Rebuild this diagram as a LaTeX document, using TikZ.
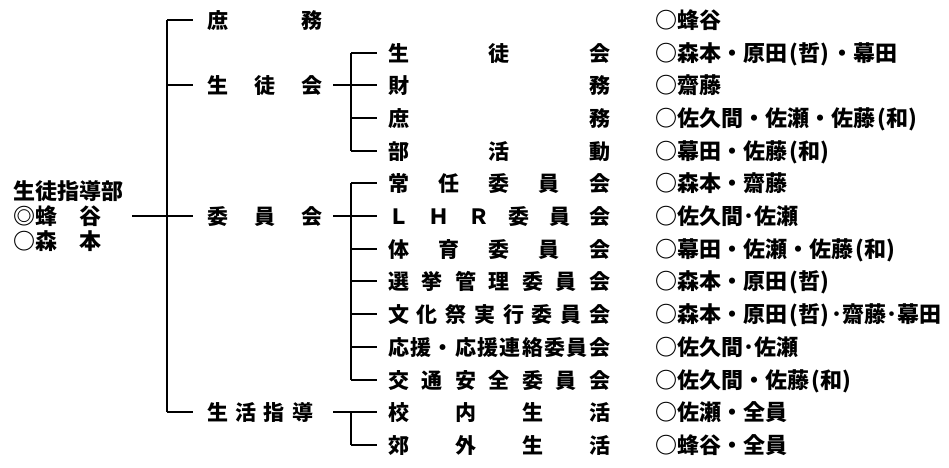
\documentclass[tikz,border=0pt]{standalone}
\usepackage{fontspec}
\setmainfont{Noto Sans CJK JP}
\newcommand\lpar{\makebox[0.5em][r]{(}}
\newcommand\rpar{\makebox[0.5em][l]{)}}
\begin{document}
\begin{tikzpicture}[x=1pt,y=-1pt,
  ln/.style={line width=1.8pt},
  base/.style={anchor=west, inner sep=0pt, text height=18.5pt, text depth=2.5pt},
  lhead/.style={base, font=\fontsize{22}{22}\selectfont\bfseries},
  lone/.style={base, font=\fontsize{21}{21}\selectfont\bfseries},
  ltwo/.style={base, font=\fontsize{21}{21}\selectfont\bfseries},
  lname/.style={base, font=\fontsize{22}{22}\selectfont\bfseries}]
\useasboundingbox (0,0) rectangle (949,467);
% left block
\node[lhead] (hd) at (13,191) {生徒指導部};
\node[lhead] (h1) at (13,216) {◎蜂　谷};
\node[lhead] (h2) at (13,241) {○森　本};
\coordinate (hs) at (132,216);
% level 1
\node[lone] (a1) at (207,20)  {\makebox[115pt][s]{庶\hfill 務}};
\node[lone] (a2) at (207,85)  {\makebox[115pt][s]{生\hfill 徒\hfill 会}};
\node[lone] (a3) at (207,216) {\makebox[115pt][s]{委\hfill 員\hfill 会}};
\node[lone] (a4) at (207,412) {\makebox[106pt][s]{生\hfill 活\hfill 指\hfill 導}};
% main trunk joints
\coordinate (m1) at (167,20);
\coordinate (m2) at (167,85);
\coordinate (m3) at (167,216);
\coordinate (m4) at (167,412);
% level 2
\node[ltwo] (b1)  at (388,53)  {\makebox[222pt][s]{生\hfill 徒\hfill 会}};
\node[ltwo] (b2)  at (388,85)  {\makebox[222pt][s]{財\hfill 務}};
\node[ltwo] (b3)  at (388,118) {\makebox[222pt][s]{庶\hfill 務}};
\node[ltwo] (b4)  at (388,151) {\makebox[222pt][s]{部\hfill 活\hfill 動}};
\node[ltwo] (b5)  at (388,183) {\makebox[222pt][s]{常\hfill 任\hfill 委\hfill 員\hfill 会}};
\node[ltwo] (b6)  at (388,216) {\makebox[222pt][s]{Ｌ\hfill Ｈ\hfill Ｒ\hfill 委\hfill 員\hfill 会}};
\node[ltwo] (b7)  at (388,249) {\makebox[222pt][s]{体\hfill 育\hfill 委\hfill 員\hfill 会}};
\node[ltwo] (b8)  at (388,281) {\makebox[222pt][s]{選\hfill 挙\hfill 管\hfill 理\hfill 委\hfill 員\hfill 会}};
\node[ltwo] (b9)  at (388,314) {\makebox[222pt][s]{文\hfill 化\hfill 祭\hfill 実\hfill 行\hfill 委\hfill 員\hfill 会}};
\node[ltwo] (b10) at (388,347) {\makebox[222pt][s]{応\hfill 援\hfill ・\hfill 応\hfill 援\hfill 連\hfill 絡\hfill 委\hfill 員\hfill 会}};
\node[ltwo] (b11) at (388,380) {\makebox[222pt][s]{交\hfill 通\hfill 安\hfill 全\hfill 委\hfill 員\hfill 会}};
\node[ltwo] (b12) at (388,412) {\makebox[222pt][s]{校\hfill 内\hfill 生\hfill 活}};
\node[ltwo] (b13) at (388,445) {\makebox[222pt][s]{郊\hfill 外\hfill 生\hfill 活}};
% sub-trunk joints
\coordinate (v1) at (351,53);
\coordinate (v4) at (351,151);
\coordinate (v5) at (351,183);
\coordinate (v11) at (351,380);
\coordinate (v12) at (351,412);
\coordinate (v13) at (351,445);
% names
\node[lname] (p0)  at (655,20)  {○蜂谷};
\node[lname] (p1)  at (655,53)  {○森本・原田\lpar 哲\rpar ・幕田};
\node[lname] (p2)  at (655,85)  {○齋藤};
\node[lname] (p3)  at (655,118) {○佐久間・佐瀬・佐藤\lpar 和\rpar};
\node[lname] (p4)  at (655,151) {○幕田・佐藤\lpar 和\rpar};
\node[lname] (p5)  at (655,183) {○森本・齋藤};
\node[lname] (p6)  at (655,216) {○佐久間･佐瀬};
\node[lname] (p7)  at (655,249) {○幕田・佐瀬・佐藤\lpar 和\rpar};
\node[lname] (p8)  at (655,281) {○森本・原田\lpar 哲\rpar};
\node[lname] (p9)  at (655,314) {○森本・原田\lpar 哲\rpar ･齋藤･幕田};
\node[lname] (p10) at (655,347) {○佐久間･佐瀬};
\node[lname] (p11) at (655,380) {○佐久間・佐藤\lpar 和\rpar};
\node[lname] (p12) at (655,412) {○佐瀬・全員};
\node[lname] (p13) at (655,445) {○蜂谷・全員};
% connectors: main trunk
\draw[ln] (hs) -- (m3);
\draw[ln] (m1) -- (m4);
\foreach \m/\a in {m1/a1,m2/a2,m3/a3,m4/a4}
  \draw[ln] (\m) -- ([xshift=-14pt]\m -| \a.west);
% level1 to sub-trunks
\draw[ln] ([xshift=11pt]a2.east) -- (v1 |- a2.west);
\draw[ln] ([xshift=11pt]a3.east) -- (v5 |- a3.west);
\draw[ln] ([xshift=20pt]a4.east) -- (v12);
\draw[ln] (v1) -- (v4);
\draw[ln] (v5) -- (v11);
\draw[ln] (v12) -- (v13);
\foreach \b in {b1,b2,b3,b4,b5,b6,b7,b8,b9,b10,b11,b12,b13}
  \draw[ln] (v1 |- \b.west) -- ([xshift=-11pt]\b.west);
\end{tikzpicture}
\end{document}
